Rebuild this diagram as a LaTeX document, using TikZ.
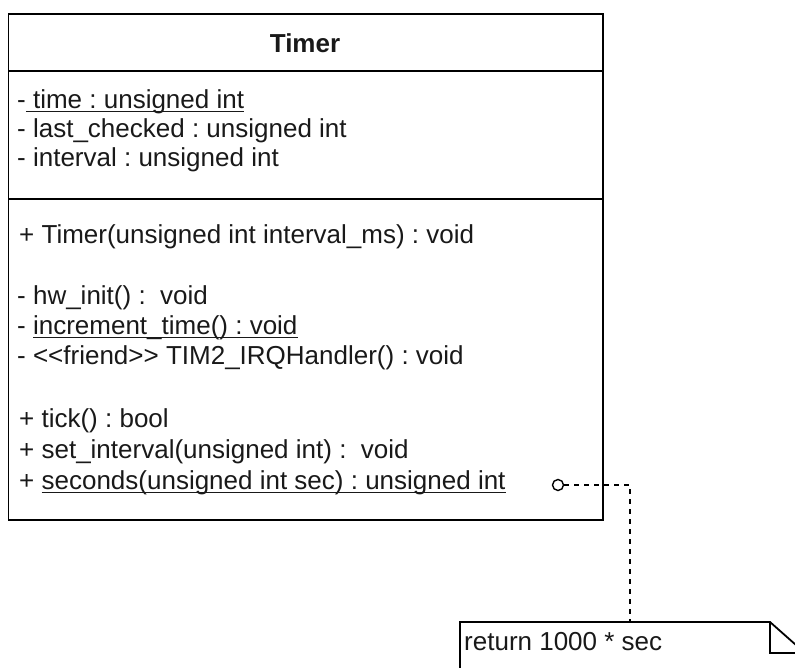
\documentclass[tikz,border=0pt]{standalone}
\usepackage{fontspec}
\setmainfont{Liberation Sans}
\usetikzlibrary{calc}
\definecolor{umlline}{RGB}{0,0,0}
\definecolor{umltext}{RGB}{25,25,25}
% static members: underline close under the baseline
\newcommand{\umlstatic}[1]{\setbox0\hbox{#1}\rlap{\rule[-3.5pt]{\wd0}{1.3pt}}\box0}

\begin{document}
\frenchspacing
\begin{tikzpicture}[x=1pt, y=-1pt, umlline,
    member/.style={anchor=west, inner sep=0pt, text=umltext, font=\fontsize{26}{30}\selectfont},
    port/.style={circle, draw, line width=1.4pt, minimum size=11pt, inner sep=0pt, fill=white}]

    \useasboundingbox (0,0) rectangle (795,668);
    \clip (0,0) rectangle (795,668);

    % class box
    \draw[line width=1.8pt] (8.5,14) rectangle (603,520);
    \draw[line width=1.8pt] (8.5,71) -- (603,71);
    \draw[line width=1.8pt] (8.5,199) -- (603,199);

    \node[text=umltext, font=\fontsize{26}{30}\selectfont\bfseries] (title) at (305,43) {Timer};

    \node[member] (time) at (17,102) {-\umlstatic{ time : unsigned int}};
    \node[member] (lastchecked) at (17,131) {- last\_checked : unsigned int};
    \node[member] (interval) at (17,160) {- interval : unsigned int};

    \node[member] (ctor) at (19,237) {+ Timer(unsigned int interval\_ms) : void};
    \node[member] (hwinit) at (17,298) {- hw\_init() :\ \ void};
    \node[member] (increment) at (17,328) {- \umlstatic{increment\_time() : void}};
    \node[member] (friend) at (17,358) {- <{}<friend>{}> TIM2\_IRQHandler() : void};
    \node[member] (tick) at (19,421) {+ tick() : bool};
    \node[member] (setinterval) at (19,452) {+ set\_interval(unsigned int) :\ \ void};
    \node[member] (seconds) at (19,483) {+ \umlstatic{seconds(unsigned int sec) : unsigned int}};

    % note
    \coordinate (notetl) at (460,622);
    \coordinate (fold) at (770,622);
    \draw[line width=1.8pt, fill=white] (460,680) -- (notetl) -- (fold) -- (805,653) -- (805,680);
    \draw[line width=1.8pt] (fold) -- (770,653) -- (805,653);
    \node[member] (notetext) at (464,642) {return 1000 * sec};

    % anchor line
    \node[port] (secport) at (558,485) {};
    \coordinate (bend) at (630,485);
    \coordinate (notetop) at (630,622);
    \draw[line width=1.6pt, dash pattern=on 5pt off 5pt] (secport) -- (bend) -- (notetop);

\end{tikzpicture}
\end{document}
